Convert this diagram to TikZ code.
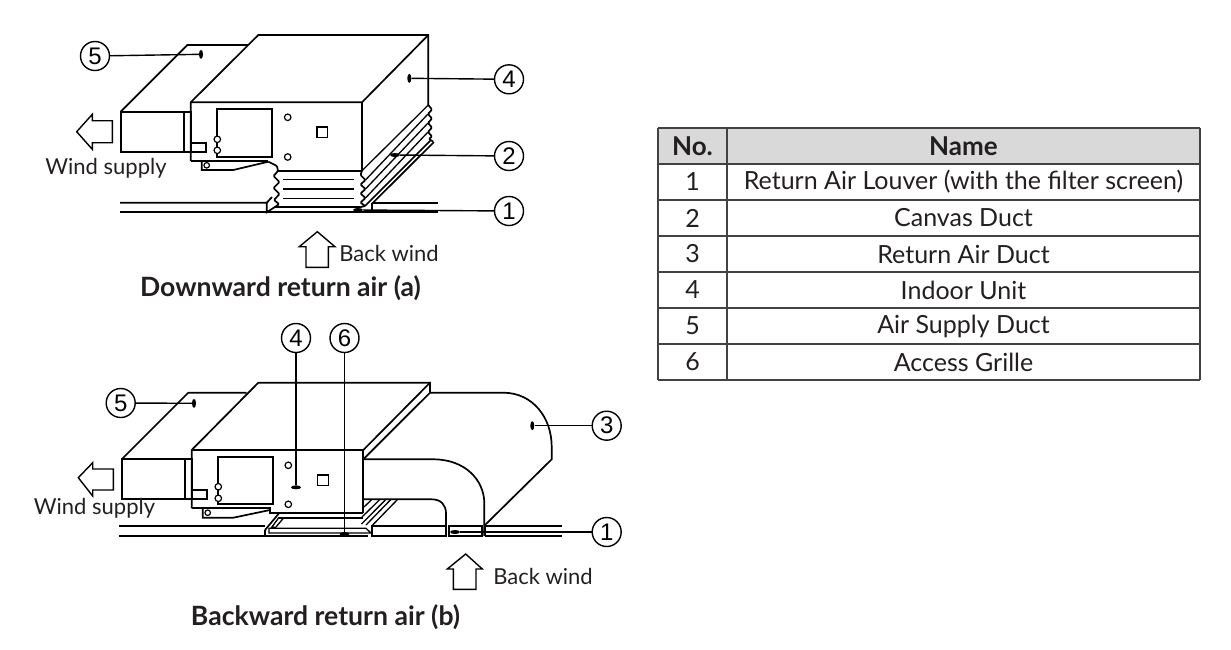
\documentclass[tikz,border=0pt]{standalone}
\usepackage{fontspec}
\setmainfont{Lato}
\newfontfamily\numfont{Liberation Sans}
\usetikzlibrary{shapes.geometric}
\definecolor{inkgrey}{HTML}{231F20}
\definecolor{headgrey}{HTML}{D9D9D9}
\tikzset{
  part/.style={line width=1.7pt,black,line join=miter},
  thinpart/.style={line width=1.3pt,black},
  windarrow/.style={line width=1.4pt,black,fill=white},
  numcircle/.style={circle,draw,line width=1.4pt,fill=white,minimum size=29pt,inner sep=0pt,font=\numfont\fontsize{24}{24}\selectfont},
  dotv/.style={ellipse,fill=black,minimum width=4pt,minimum height=9pt,inner sep=0pt},
  doth/.style={ellipse,fill=black,minimum width=10pt,minimum height=4pt,inner sep=0pt},
  leader/.style={line width=1.4pt,black},
  hole/.style={circle,draw,line width=1.2pt,fill=white,minimum size=6.5pt,inner sep=0pt},
  caption/.style={text=inkgrey,font=\fontsize{22}{24}\selectfont,inner sep=0pt},
  heading/.style={text=inkgrey,font=\fontsize{26.6}{28}\selectfont\bfseries,inner sep=0pt},
  cell/.style={text=inkgrey,font=\fontsize{25}{27}\selectfont,inner sep=0pt},
  headcell/.style={text=inkgrey,font=\fontsize{26}{28}\selectfont\bfseries,inner sep=0pt},
  gridline/.style={line width=1.7pt,inkgrey!85}
}
\begin{document}
\begin{tikzpicture}[x=1pt,y=-1pt]
  \useasboundingbox (0,0) rectangle (1231,649);

  % Figure (a): air supply duct
  \draw[part] (120.7,111.7) rectangle (190.7,151.7);
  \draw[part] (120.7,111.7) -- (187.3,45) -- (248,45);
  \draw[part] (184,111.7) -- (184,151.7);
  \draw[part] (190.7,142.7) rectangle (206,151.7);

  % Figure (a): indoor unit
  \draw[part] (190.7,161) -- (190.7,102.3) -- (258.3,35) -- (428.3,35) -- (428.3,105);
  \draw[part] (190.7,102.3) -- (362,102.3) -- (428.3,35);
  \draw[part] (362,102.3) -- (362,170.7);
  \draw[part] (190.7,161) -- (268.3,161);
  \draw[part] (201.7,161) -- (201.7,170) -- (233.3,170) -- (268.3,161.7);
  \draw[part] (217.3,109) rectangle (271.7,156.7);
  \node[hole,minimum size=5.5pt] (a1) at (206.7,165.3) {};
  \node[hole] (a2) at (217.3,139.3) {};
  \node[hole] (a3) at (217.3,150.3) {};
  \node[hole] (a4) at (287.7,117.3) {};
  \node[hole] (a5) at (287.7,157) {};
  \draw[thinpart] (317,127) rectangle (327.7,137.7);

  % Figure (a): canvas duct, front
  \draw[part,rounded corners=1pt] (268.3,161.7) -- (277,166) -- (278,171) -- (273.5,176) -- (279.5,182) -- (273.5,188)
    -- (279.5,194) -- (274,200) -- (279,204) -- (275,207.3);
  \draw[part] (278,170.7) -- (362,170.7);
  \draw[part] (276,207.3) -- (360,207.3);
  \foreach \y in {179.3,189,198.3}
    \draw[thinpart] (283.3,\y) -- (354,\y);

  % Figure (a): canvas duct, side
  \draw[part,rounded corners=1pt] (362,170.7) -- (360.5,175) -- (365.5,180) -- (360.5,184.5) -- (365.5,189)
    -- (360.5,193.5) -- (365.5,198) -- (360.5,202.5) -- (365,206) -- (360,207.3);
  \draw[part,rounded corners=1pt] (428.3,105) -- (432,109.5) -- (428,114) -- (432,118.5)
    -- (428,123) -- (432,127.5) -- (428,132) -- (432,136.5) -- (429,139) -- (433,141.5);
  \draw[thinpart] (362,170.7) -- (428.3,105);
  \foreach \y/\u in {180/114,189/123,198/132}
    \draw[thinpart] (365.5,\y) -- (428,\u);
  \draw[part] (365,206) -- (431,140);
  \draw[part] (371.7,204) -- (434,142);

  % Figure (a): ceiling
  \draw[part] (120,202.7) -- (266.7,202.7) -- (272,197);
  \draw[part] (120,212.3) -- (437.7,212.3);
  \draw[part] (266.7,202.7) -- (266.7,212.3) -- (278,205);
  \draw[part] (371.7,202.7) -- (437.7,202.7);
  \draw[part] (371.7,202.7) -- (371.7,212.3);

  % Figure (a): arrows and labels
  \draw[windarrow] (112.3,120.7) -- (92.3,120.7) -- (92.3,114.3) -- (76.7,131.7) -- (92.3,149.3)
    -- (92.3,142.7) -- (112.3,142.7) -- cycle;
  \draw[windarrow] (306,267.3) -- (306,246.7) -- (299.3,246.7) -- (317.3,231.7) -- (335,246.7)
    -- (328.3,246.7) -- (328.3,267.3) -- cycle;
  \node[caption] (awind) at (106,168) {Wind supply};
  \node[caption] (aback) at (389,253) {Back wind};
  \node[heading] (atitle) at (280.5,288) {Downward return air (a)};

  % Figure (a): numbered leaders
  \node[numcircle] (an5) at (95,56) {5};
  \node[numcircle] (an4) at (509,79.3) {4};
  \node[numcircle] (an2) at (509,156) {2};
  \node[numcircle] (an1) at (509,211) {1};
  \node[dotv] (ad5) at (201,54.3) {};
  \node[dotv] (ad4) at (409.3,78.3) {};
  \node[doth] (ad2) at (395,155) {};
  \node[doth] (ad1) at (358,210) {};
  \draw[leader] (an5) -- (ad5);
  \draw[leader] (an4) -- (ad4);
  \draw[leader] (an2) -- (ad2);
  \draw[leader] (an1) -- (ad1);

  % Figure (b): air supply duct
  \draw[part] (121.7,459.3) rectangle (191.7,499);
  \draw[part] (121.7,459.3) -- (188.3,392.7) -- (246.7,392.7);
  \draw[part] (185,459.3) -- (185,499);
  \draw[part] (191.7,490) rectangle (206.7,499);

  % Figure (b): indoor unit
  \draw[part] (191.7,508.3) -- (191.7,450) -- (258.3,382.7) -- (430,382.7) -- (430,392.7);
  \draw[part] (191.7,450) -- (363.3,450) -- (430,382.7);
  \draw[part] (363.3,450) -- (363.3,513.3);
  \draw[part] (363.3,459.3) -- (430,392.7);
  \draw[part] (191.7,508.3) -- (270,508.3) -- (270,513.3) -- (363.3,513.3);
  \draw[part] (202.7,508.3) -- (202.7,517.7) -- (233.3,517.7) -- (270,510);
  \draw[part] (218.3,456.7) rectangle (272.7,504.3);
  \node[hole,minimum size=5.5pt] (b1) at (207.7,512.7) {};
  \node[hole] (b2) at (218.3,486.7) {};
  \node[hole] (b3) at (218.3,498.3) {};
  \node[hole] (b4) at (288.3,465.3) {};
  \node[hole] (b5) at (288.3,504.3) {};
  \draw[thinpart] (317.7,475) rectangle (328.3,485.3);

  % Figure (b): return air duct
  \draw[part] (363.3,459.3) -- (433.3,459.3) .. controls (465,459.3) and (484.3,480) .. (484.3,503.3) -- (484.3,536);
  \draw[part] (363.3,499.3) -- (431.7,499.3) .. controls (441,499.3) and (446,505) .. (446,513.3) -- (446,536);
  \draw[part] (430,392.7) -- (503.3,392.7) .. controls (533,392.7) and (551.7,418) .. (551.7,446.7)
    -- (551.7,459.3) -- (485,525);

  % Figure (b): hatched collars
  \foreach \x/\e/\f in {372/364/507,380/362/517,386/361.5/524,391/366/525,397.7/371.7/526}
    \draw[thinpart] (\x,499.3) -- (\e,\f);
  \draw[part] (279,513.3) -- (265,530);
  \draw[thinpart] (278.3,518.3) -- (271.7,527.3) -- (275.7,527.3) -- (283.3,518.3);
  \draw[part] (278.3,518.3) -- (363.3,518.3);

  % Figure (b): ceiling
  \draw[part] (119.3,525.7) -- (265,525.7);
  \draw[part] (119.3,536) -- (368.3,536);
  \draw[part] (265,530) -- (265,536);
  \draw[thinpart] (269,528.3) -- (366,528.3) -- (371,533) -- (269,533) -- cycle;
  \draw[part] (371.7,526) rectangle (446,536);
  \draw[part] (449,526) rectangle (482.3,536);
  \draw[part] (485,526) -- (562.3,526);
  \draw[part] (485,535.7) -- (562.3,535.7);
  \draw[part] (485,526) -- (485,535.7);

  % Figure (b): arrows and labels
  \draw[windarrow] (113.3,469) -- (92.7,469) -- (92.7,462.7) -- (78.3,477.7) -- (92.7,496)
    -- (92.7,490) -- (113.3,490) -- cycle;
  \draw[windarrow] (453.3,589.3) -- (453.3,569) -- (447.3,569) -- (465.7,554) -- (482.3,569)
    -- (476,569) -- (476,589.3) -- cycle;
  \node[caption] (bwind) at (94.5,508) {Wind supply};
  \node[caption] (bback) at (543,576) {Back wind};
  \node[heading] (btitle) at (325.5,617) {Backward return air (b)};

  % Figure (b): numbered leaders
  \node[numcircle] (bn5) at (120.7,403) {5};
  \node[numcircle] (bn4) at (296,338) {4};
  \node[numcircle] (bn6) at (344.5,338) {6};
  \node[numcircle] (bn3) at (606.7,425.7) {3};
  \node[numcircle] (bn1) at (606.7,532) {1};
  \node[dotv] (bd5) at (194,403.3) {};
  \node[doth] (bd4) at (296,487.3) {};
  \node[doth] (bd6) at (344.5,534) {};
  \node[dotv] (bd3) at (532.3,425.7) {};
  \node[doth] (bd1) at (455,532) {};
  \draw[leader] (bn5) -- (bd5);
  \draw[leader] (bn4) -- (bd4);
  \draw[leader] (bn6) -- (bd6);
  \draw[leader] (bn3) -- (bd3);
  \draw[leader] (bn1) -- (bd1);

  % Table
  \fill[headgrey] (658,128) rectangle (1200,164);
  \foreach \y in {128,164,200,236,272,308,344,380}
    \draw[gridline] (658,\y) -- (1200,\y);
  \foreach \x in {658,727,1200}
    \draw[gridline] (\x,128) -- (\x,380);
  \node[headcell] (hno) at (692.5,146) {No.};
  \node[headcell] (hname) at (963.5,146) {Name};
  \foreach \n/\y/\t in {1/182/Return Air Louver (with the filter screen),2/218/Canvas Duct,3/254/Return Air Duct,
      4/290/Indoor Unit,5/326/Air Supply Duct,6/362/Access Grille} {
    \node[cell] (no\n) at (692.5,\y) {\n};
    \node[cell] (name\n) at (963.5,\y) {\t};
  }

\end{tikzpicture}
\end{document}
